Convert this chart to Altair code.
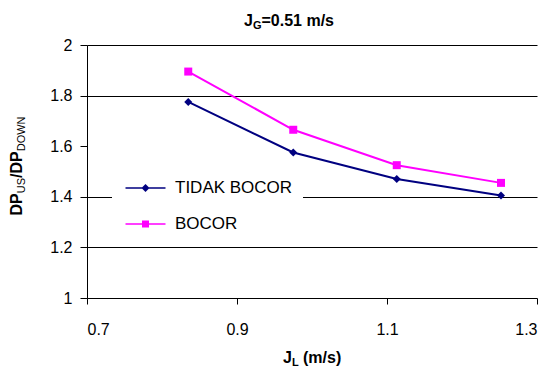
import altair as alt
import pandas as pd

# ---- data ----
jl = [0.835, 0.975, 1.113, 1.252]
tidak_bocor = [1.775, 1.575, 1.470, 1.405]
bocor = [1.895, 1.665, 1.525, 1.455]
series_names = ["TIDAK BOCOR", "BOCOR"]
series_colors = ["#000080", "#FF00FF"]
point_shapes = ["diamond", "square"]
x_ticks = [0.7, 0.9, 1.1, 1.3]
y_ticks = [1.0, 1.2, 1.4, 1.6, 1.8, 2.0]

# legend symbols: short line with the marker in its middle
legend_shapes = [
    "M-1,-0.15H7V0.15H-1Z M3,-0.8L3.8,0L3,0.8L2.2,0Z",
    "M-1,-0.15H7V0.15H-1Z M2.3,-0.7H3.7V0.7H2.3Z",
]

rows = []
for x, a, b in zip(jl, tidak_bocor, bocor):
    rows.append({"jl": x, "ratio": a, "series": series_names[0]})
    rows.append({"jl": x, "ratio": b, "series": series_names[1]})
df = pd.DataFrame(rows)

FONT = "Liberation Sans"

x_enc = alt.X(
    "jl:Q",
    scale=alt.Scale(domain=[0.7, 1.3], nice=False, zero=False),
    axis=alt.Axis(values=x_ticks, format=".1f", title=None, grid=False,
                  tickSize=6, labelPadding=17, labelFontSize=16),
)
y_enc = alt.Y(
    "ratio:Q",
    scale=alt.Scale(domain=[1, 2], nice=False, zero=False),
    axis=alt.Axis(values=y_ticks, format=".1~f", title=None, grid=True,
                  gridColor="black", gridWidth=1,
                  gridOpacity={"condition": {"test": "abs(datum.value - 1.6) < 0.001 || abs(datum.value - 1) < 0.001", "value": 0}, "value": 1},
                  tickSize=7, labelPadding=8, labelFontSize=16),
)

color_scale = alt.Scale(domain=series_names, range=series_colors)

base = alt.Chart(df).encode(x=x_enc, y=y_enc)

lines = base.mark_line(strokeWidth=2).encode(
    color=alt.Color("series:N", scale=color_scale, legend=None)
)
points = base.mark_point(filled=True, opacity=1).encode(
    color=alt.Color("series:N", scale=color_scale, legend=None),
    shape=alt.Shape("series:N", scale=alt.Scale(domain=series_names, range=point_shapes), legend=None),
    size=alt.value(64),
)
leg_kw = dict(
    title=None, orient="none", legendX=25, legendY=124.5, fillColor="white",
    padding=10, symbolSize=100, symbolStrokeWidth=0, symbolOpacity=1,
    labelFontSize=17, labelFont=FONT, labelColor="black", labelOffset=36,
    rowPadding=18,
)
legend_layer = base.mark_point(filled=True, opacity=0).encode(
    color=alt.Color("series:N", scale=color_scale, legend=alt.Legend(**leg_kw)),
    shape=alt.Shape("series:N", scale=alt.Scale(domain=series_names, range=legend_shapes),
                    legend=alt.Legend(**leg_kw)),
)

one = pd.DataFrame({"k": [0]})


def txt(s, x, y, size, bold=True, angle=0):
    kw = dict(text=s, align="left", baseline="alphabetic", font=FONT,
              fontSize=size, fontWeight="bold" if bold else "normal", color="black")
    if angle:
        kw["angle"] = angle
    return alt.Chart(one).mark_text(**kw).encode(x=alt.value(x), y=alt.value(y))


# chart title  J_G=0.51 m/s
title_parts = [
    txt("J", 157, -19, 16),
    txt("G", 165.9, -16, 11),
    txt("=0.51 m/s", 174.5, -19, 16),
]
# x title  J_L (m/s)
xt_parts = [
    txt("J", 196, 318, 16),
    txt("L", 204.9, 321, 11),
    txt("(m/s)", 216, 318, 16),
]
# y title  DP_US/DP_DOWN (rotated)
yt_parts = [
    txt("DP", -65, 170.5, 16, angle=270),
    txt("US", -62, 148.3, 11, bold=False, angle=270),
    txt("/DP", -65, 133.0, 16, angle=270),
    txt("DOWN", -62, 106.3, 11, bold=False, angle=270),
]

chart = alt.layer(
    lines, points, legend_layer, *title_parts, *xt_parts, *yt_parts
).resolve_scale(
    color="independent", shape="independent"
).properties(
    width=450, height=253,
    autosize=alt.AutoSizeParams(type="none"),
    padding={"left": 79, "top": 37, "right": 4, "bottom": 73},
    background="white",
).configure_view(
    stroke=None
).configure_axis(
    labelFont=FONT, labelColor="black", domainColor="black", tickColor="black",
    domainWidth=1, tickWidth=1,
)

chart.save("out.html", embed_options={"renderer": "svg", "actions": False})
